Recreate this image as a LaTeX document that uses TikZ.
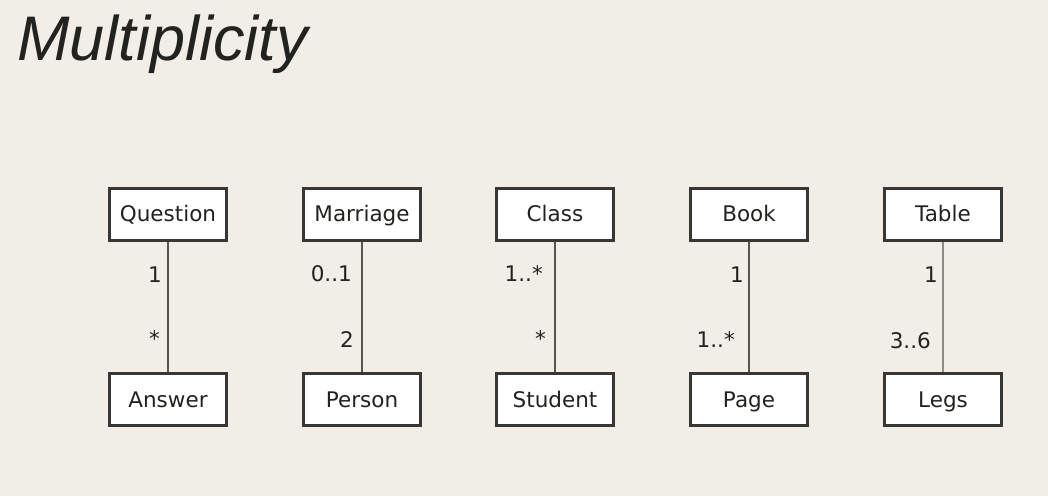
\documentclass[tikz,border=0pt]{standalone}
\usepackage{fontspec}
\setmainfont{Liberation Sans}
\newfontfamily\boxfont{DejaVu Sans}
\definecolor{bg}{RGB}{241,238,232}
\definecolor{ink}{RGB}{34,34,30}
\definecolor{boxline}{RGB}{55,55,52}
\definecolor{conn}{RGB}{85,85,80}
\definecolor{connlight}{RGB}{140,140,135}
\begin{document}
\begin{tikzpicture}[x=1pt,y=-1pt,
  cls/.style={draw=boxline, line width=3pt, fill=white, minimum width=117pt, minimum height=52pt, inner sep=0pt, text height=15.7pt, text depth=0pt, font=\boxfont\fontsize{21.5}{26}\selectfont, text=ink},
  mult/.style={anchor=east, inner sep=0pt, text height=15.7pt, text depth=0pt, font=\boxfont\fontsize{21.5}{26}\selectfont, text=ink},
  assoc/.style={draw=conn, line width=2pt}]
\fill[bg] (0,0) rectangle (1048,496);
\useasboundingbox (0,0) rectangle (1048,496);
\node[anchor=base west, inner sep=0pt, font=\fontsize{63}{68}\selectfont\itshape, text=ink] (title) at (17,60) {Multiplicity};

\node[cls] (q) at (168,214) {Question};
\node[cls] (a) at (168,399.5) {Answer};
\node[cls] (m) at (362,214) {Marriage};
\node[cls] (p) at (362,399.5) {Person};
\node[cls] (c) at (555,214) {Class};
\node[cls] (s) at (555,399.5) {Student};
\node[cls] (b) at (749,214) {Book};
\node[cls] (pg) at (749,399.5) {Page};
\node[cls] (t) at (943,214) {Table};
\node[cls] (l) at (943,399.5) {Legs};

\draw[assoc] (q) -- (a);
\draw[assoc] (m) -- (p);
\draw[assoc] (c) -- (s);
\draw[assoc] (b) -- (pg);
\draw[assoc, draw=connlight, line width=2.5pt] (t) -- (l);

\node[mult] (q1) at (162,275) {1};
\node[mult] (a1) at (160,339) {*};
\node[mult] (m1) at (352,274) {0..1};
\node[mult] (p1) at (354,340) {2};
\node[mult] (c1) at (543,274) {1..*};
\node[mult] (s1) at (546,339) {*};
\node[mult] (b1) at (744,275) {1};
\node[mult] (pg1) at (735,340) {1..*};
\node[mult] (t1) at (938,275) {1};
\node[mult] (l1) at (931,341) {3..6};
\end{tikzpicture}
\end{document}
